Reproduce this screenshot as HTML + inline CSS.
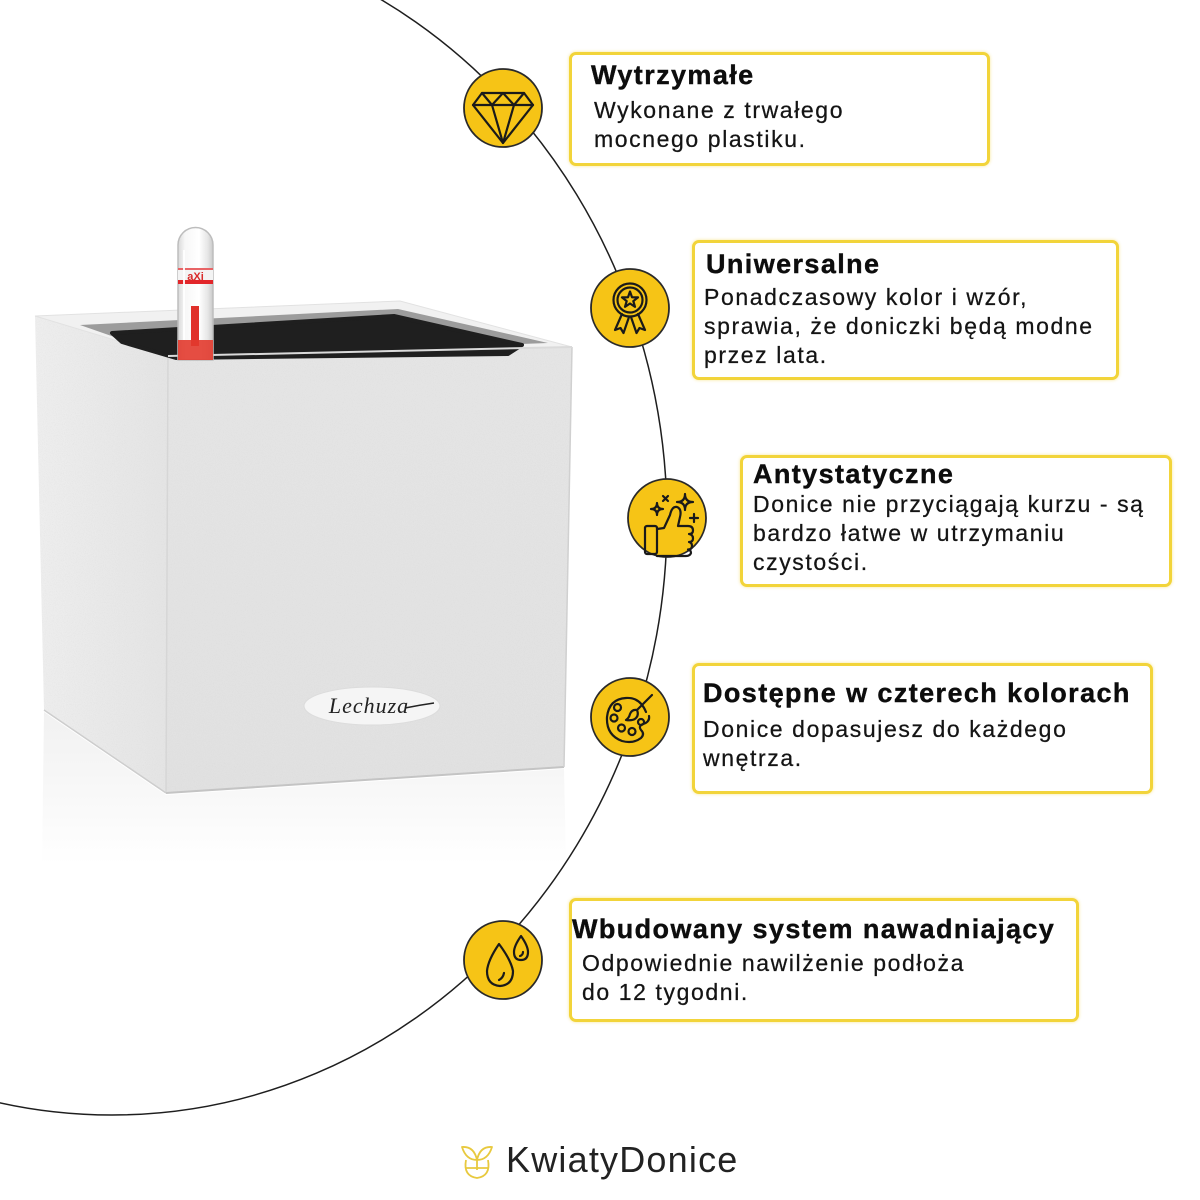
<!DOCTYPE html>
<html>
<head>
<meta charset="utf-8">
<style>
  html,body{margin:0;padding:0;background:#fff;}
  #page{position:relative;width:1200px;height:1200px;overflow:hidden;background:#fff;font-family:"Liberation Sans",Arial,sans-serif;}
  .box{position:absolute;box-sizing:border-box;border:3px solid #f2d43a;border-radius:7px;box-shadow:0 0 3px rgba(240,200,20,0.45);background:#fff;}
  .t{position:absolute;white-space:nowrap;font-weight:bold;font-size:27px;line-height:32px;letter-spacing:1.4px;color:#0d0d0d;-webkit-text-stroke:0.4px #0d0d0d;}
  .b{position:absolute;white-space:nowrap;font-size:23px;line-height:29px;letter-spacing:1.6px;color:#141414;-webkit-text-stroke:0.25px #141414;}
  svg{position:absolute;left:0;top:0;}
</style>
</head>
<body>
<div id="page">

<!-- POT -->
<svg width="1200" height="1200" viewBox="0 0 1200 1200">
  <defs>
    <linearGradient id="refl" x1="0" y1="0" x2="0" y2="1">
      <stop offset="0" stop-color="#f1f1f1"/>
      <stop offset="0.45" stop-color="#f7f7f7"/>
      <stop offset="1" stop-color="#ffffff"/>
    </linearGradient>
    <linearGradient id="leftf" x1="0" y1="0" x2="1" y2="0">
      <stop offset="0" stop-color="#eeeeee"/>
      <stop offset="1" stop-color="#e4e4e4"/>
    </linearGradient>
    <linearGradient id="frontf" x1="0" y1="0" x2="0" y2="1">
      <stop offset="0" stop-color="#e5e5e5"/>
      <stop offset="1" stop-color="#e1e1e1"/>
    </linearGradient>
    <linearGradient id="tubeg" x1="0" y1="0" x2="1" y2="0">
      <stop offset="0" stop-color="#d8d8d8"/>
      <stop offset="0.2" stop-color="#f7f7f7"/>
      <stop offset="0.6" stop-color="#ffffff"/>
      <stop offset="0.85" stop-color="#e6e6e6"/>
      <stop offset="1" stop-color="#c9c9c9"/>
    </linearGradient>
    <filter id="speck" x="0" y="0" width="100%" height="100%">
      <feTurbulence type="fractalNoise" baseFrequency="1.1" numOctaves="1" seed="4"/>
      <feColorMatrix type="matrix" values="0 0 0 0 0.6  0 0 0 0 0.6  0 0 0 0 0.6  1.6 0 0 0 -0.75"/>
    </filter>
    <clipPath id="potclip">
      <polygon points="35,316 168,356 166,793 44,710"/>
      <polygon points="168,356 572,347 564,767 166,793"/>
    </clipPath>
  </defs>

  <!-- reflection -->
  <polygon points="44,712 166,795 564,769 566,865 42,865" fill="url(#refl)"/>

  <!-- left face -->
  <polygon points="35,316 168,356 166,793 44,710" fill="url(#leftf)"/>
  <!-- front face -->
  <polygon points="168,356 572,347 564,767 166,793" fill="url(#frontf)"/>
  <!-- texture -->
  <g clip-path="url(#potclip)" opacity="0.35">
    <rect x="30" y="300" width="550" height="500" filter="url(#speck)"/>
  </g>
  <!-- edges -->
  <line x1="168" y1="356" x2="166" y2="793" stroke="#d6d6d6" stroke-width="1.5"/>
  <line x1="166" y1="793" x2="564" y2="767" stroke="#c4c4c4" stroke-width="2"/>
  <line x1="44" y1="710" x2="166" y2="793" stroke="#cdcdcd" stroke-width="1.5"/>
  <line x1="572" y1="347" x2="564" y2="767" stroke="#d0d0d0" stroke-width="1.5"/>

  <!-- rim -->
  <polygon points="35,316 400,301 572,347 168,356" fill="#f1f1f1" stroke="#e2e2e2" stroke-width="1"/>
  <polygon points="80,325 398,309 548,343 172,357" fill="#9c9c9c"/>
  <polygon points="112,333 394,316 522,345 508,354 176,358 122,342" fill="#1f1f1f" stroke="#1f1f1f" stroke-width="4" stroke-linejoin="round"/>
  <line x1="168" y1="356" x2="572" y2="347" stroke="#dadada" stroke-width="2"/>

  <!-- water indicator tube -->
  <path d="M178,360 L178,245 A17.5,17.5 0 0 1 213,245 L213,360 Z" fill="url(#tubeg)" stroke="#bdbdbd" stroke-width="1.5"/>
  <rect x="178" y="268" width="35" height="16" fill="#f3f3f3"/>
  <rect x="178" y="280" width="35" height="4" fill="#e2262a"/>
  <rect x="178" y="268" width="35" height="2" fill="#e2262a" opacity="0.7"/>
  <text x="195.5" y="280" font-family="Liberation Sans, sans-serif" font-size="11" font-weight="bold" fill="#d92a2a" text-anchor="middle">aXi</text>
  <rect x="191" y="306" width="8" height="40" fill="#e0302a"/>
  <rect x="178" y="340" width="35" height="20" fill="#e23a2e" opacity="0.9"/>
  <line x1="184" y1="250" x2="184" y2="340" stroke="#ffffff" stroke-width="2" opacity="0.9"/>

  <!-- Lechuza logo -->
  <ellipse cx="372" cy="706" rx="68" ry="19" fill="#f5f5f5" stroke="#dcdcdc" stroke-width="1"/>
  <text x="369" y="713" font-family="Liberation Serif, serif" font-style="italic" font-size="22" fill="#222" text-anchor="middle" letter-spacing="1">Lechuza</text>
  <path d="M405,708 Q420,705 434,703" stroke="#222" stroke-width="1.5" fill="none"/>
</svg>

<!-- CURVE + ICONS -->
<svg width="1200" height="1200" viewBox="0 0 1200 1200">
  <ellipse cx="112" cy="520" rx="555" ry="595" fill="none" stroke="#1e1e1e" stroke-width="1.5"/>

  <g fill="#f6c416" stroke="#2a2a2a" stroke-width="1.8">
    <circle cx="503" cy="108" r="39"/>
    <circle cx="630" cy="308" r="39"/>
    <circle cx="667" cy="518" r="39"/>
    <circle cx="630" cy="717" r="39"/>
    <circle cx="503" cy="960" r="39"/>
  </g>

  <g fill="none" stroke="#1a1a1a" stroke-width="2.2" stroke-linejoin="round" stroke-linecap="round">
    <!-- diamond -->
    <path d="M482,93 H524 L533,105 L503,143 L473,105 Z"/>
    <path d="M473,105 H533"/>
    <path d="M482,93 L492,105 L503,93 L514,105 L524,93"/>
    <path d="M492,105 L503,143 L514,105"/>

    <!-- medal -->
    <circle cx="630" cy="300" r="16.5"/>
    <circle cx="630" cy="300" r="12.5"/>
    <path d="M630,291.5 L632,297.25 L638,297.4 L633.3,301.1 L635,306.8 L630,303.5 L625,306.8 L626.7,301.1 L622,297.4 L628,297.25 Z"/>
    <path d="M622,314 L615,330 L620.5,328 L623.5,333 L629,317"/>
    <path d="M638,314 L645,330 L639.5,328 L636.5,333 L631,317"/>

    <!-- thumbs up -->
    <rect x="645" y="526" width="12" height="28" rx="2"/>
    <path d="M657,529 L664,528 L670,515 Q672,506 677,507 Q682,509 680,517 L678,526 L688,526 Q693,526 693,530.5 Q693,534 689,534 Q693,534.5 693,538.5 Q693,542 689,542 Q692,542.5 692,546 Q692,549.5 688,549.5 Q691,550 691,553 Q690,556 686,556 L657,556"/>
    <path d="M685,494 Q685,502 693,502 Q685,502 685,510 Q685,502 677,502 Q685,502 685,494 Z"/>
    <path d="M657,503 Q657,509 663,509 Q657,509 657,515 Q657,509 651,509 Q657,509 657,503 Z"/>
    <path d="M663,496 L668,501 M668,496 L663,501"/>
    <path d="M694,514 V522 M690,518 H698"/>

    <!-- palette -->
    <path d="M646,712 Q640,697 626,698 Q609,699 607,717 Q606,735 622,741 Q633,744 641,738 Q645,734 641,730 Q638,726 643,724 Q650,722 649,716"/>
    <circle cx="617.5" cy="707.5" r="3.5"/>
    <circle cx="614" cy="718" r="3.5"/>
    <circle cx="621.5" cy="728" r="3.5"/>
    <circle cx="632" cy="731.5" r="3.5"/>
    <circle cx="641" cy="722" r="3" />
    <path d="M652,695 L637,710"/>
    <path d="M637,710 Q632,709 630,714 Q629,718 626,720 Q633,721 636,718 Q639,715 637,710 Z"/>

    <!-- drops -->
    <path d="M499,944 Q488,960 487,971 Q487,985 500,986 Q513,985 513,971 Q511,960 499,944 Z"/>
    <path d="M504,973 Q503,978 499,980"/>
    <path d="M521,936 Q514,946 514,952 Q514,960 521,960 Q528,960 528,952 Q528,946 521,936 Z"/>
    <path d="M523,952 Q523,955 520,956"/>
  </g>

  <!-- bottom logo icon -->
  <g fill="none" stroke="#e8c93e" stroke-width="1.8" stroke-linejoin="round">
    <path d="M462,1147 Q474,1146 477,1160 Q466,1160 462,1147 Z"/>
    <path d="M492,1147 Q480,1146 477,1160 Q488,1160 492,1147 Z"/>
    <path d="M466,1160 Q463,1176 477,1178 Q491,1176 488,1160"/>
    <path d="M466,1168 H488"/>
    <path d="M477,1160 V1170"/>
  </g>
</svg>

<!-- BOXES -->
<div class="box" style="left:569px;top:52px;width:421px;height:114px;"></div>
<div class="t" style="left:591px;top:59px;">Wytrzymałe</div>
<div class="b" style="left:594px;top:96px;">Wykonane z trwałego<br>mocnego plastiku.</div>

<div class="box" style="left:692px;top:240px;width:427px;height:140px;"></div>
<div class="t" style="left:706px;top:248px;">Uniwersalne</div>
<div class="b" style="left:704px;top:283px;">Ponadczasowy kolor i wzór,<br>sprawia, że doniczki będą modne<br>przez lata.</div>

<div class="box" style="left:740px;top:455px;width:432px;height:132px;"></div>
<div class="t" style="left:753px;top:458px;">Antystatyczne</div>
<div class="b" style="left:753px;top:490px;">Donice nie przyciągają kurzu - są<br>bardzo łatwe w utrzymaniu<br>czystości.</div>

<div class="box" style="left:692px;top:663px;width:461px;height:131px;"></div>
<div class="t" style="left:703px;top:677px;">Dostępne w czterech kolorach</div>
<div class="b" style="left:703px;top:715px;">Donice dopasujesz do każdego<br>wnętrza.</div>

<div class="box" style="left:569px;top:898px;width:510px;height:124px;"></div>
<div class="t" style="left:572px;top:913px;">Wbudowany system nawadniający</div>
<div class="b" style="left:582px;top:949px;">Odpowiednie nawilżenie podłoża<br>do 12 tygodni.</div>

<!-- brand -->
<div style="position:absolute;left:506px;top:1140px;font-size:36px;line-height:40px;letter-spacing:1.2px;color:#222;white-space:nowrap;">KwiatyDonice</div>

</div>
</body>
</html>
